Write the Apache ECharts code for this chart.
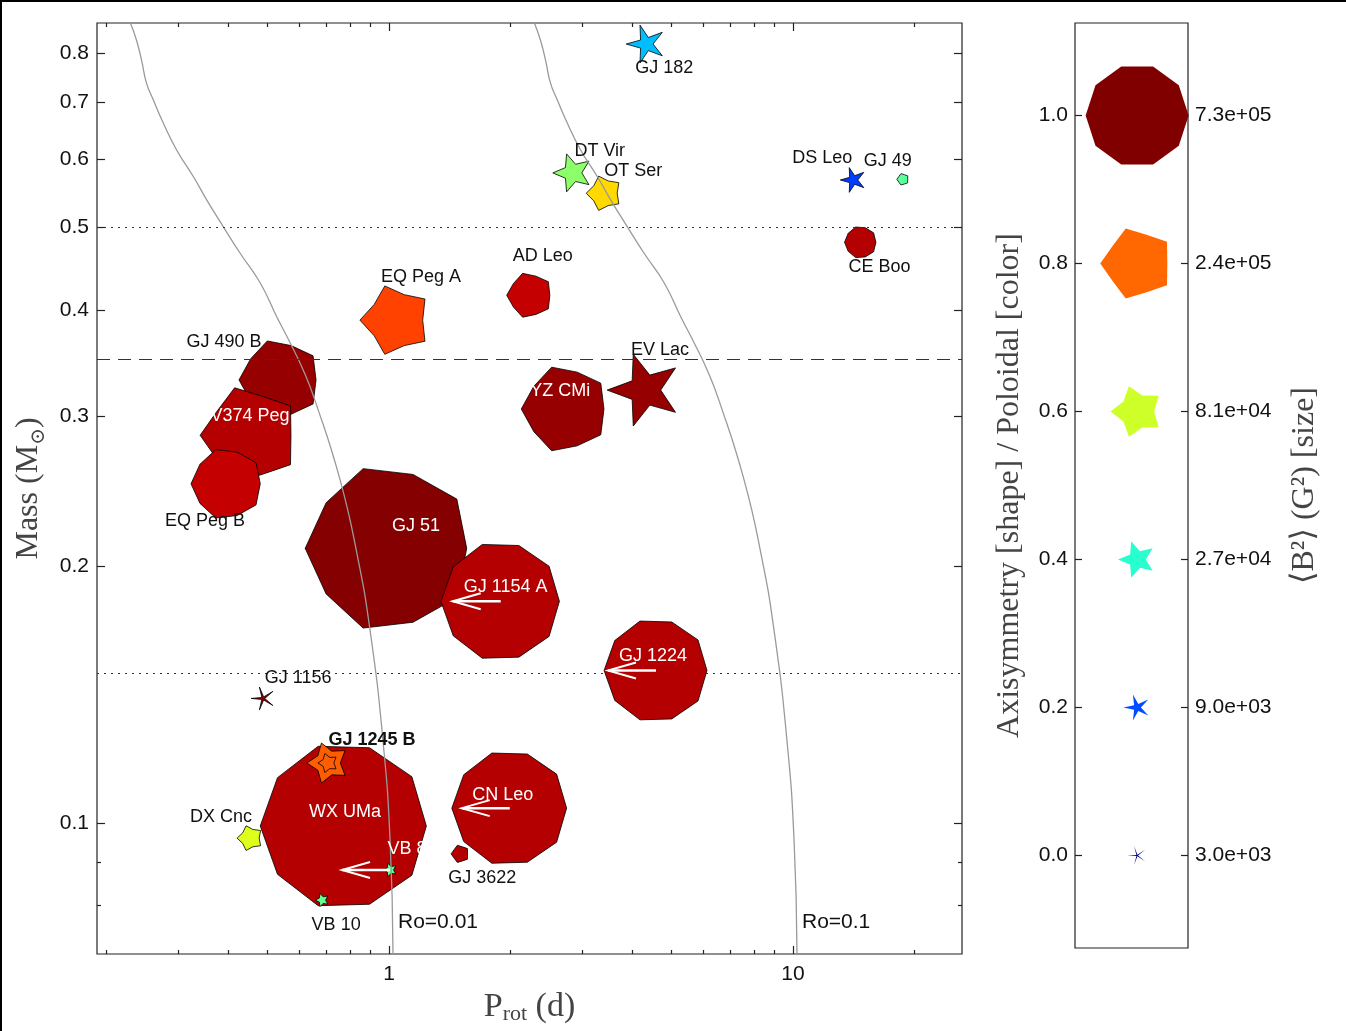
<!DOCTYPE html>
<html>
<head>
<meta charset="utf-8">
<title>Prot - Mass</title>
<script src="https://cdn.jsdelivr.net/npm/echarts@6.0.0/dist/echarts.min.js"></script>
<style>
  html, body { margin: 0; padding: 0; background: #fff; }
  #chart { width: 1346px; height: 1031px; }
</style>
</head>
<body>
<div id="chart"></div>
<script>
// one entry per star, in drawing order (later ones sit on top)
const starNames   = ['GJ 182', 'DT Vir', 'OT Ser', 'DS Leo', 'GJ 49', 'CE Boo', 'AD Leo', 'EQ Peg A',
                     'GJ 490 B', 'V374 Peg', 'EQ Peg B', 'GJ 51', 'GJ 1154 A', 'YZ CMi', 'EV Lac', 'GJ 1224',
                     'GJ 1156', 'WX UMa', 'GJ 1245 B', '', 'DX Cnc', 'VB 8', 'VB 10', 'GJ 3622', 'CN Leo'];
const protDays    = [4.33, 2.85, 3.41, 14.1, 18.7, 14.7, 2.23, 1.04,
                     0.537, 0.453, 0.397, 1.00, 1.89, 2.73, 4.30, 4.58,
                     0.488, 0.774, 0.706, 0.706, 0.453, 1.006, 0.683, 1.50, 1.99];
const massSun     = [0.820, 0.579, 0.548, 0.568, 0.569, 0.480, 0.416, 0.389,
                     0.331, 0.285, 0.250, 0.210, 0.182, 0.306, 0.322, 0.151,
                     0.140, 0.0992, 0.1176, 0.1176, 0.0960, 0.0881, 0.0812, 0.0920, 0.1041];
const axisymmetry = [0.28, 0.40, 0.69, 0.28, 0.80, 0.95, 0.86, 0.72,
                     0.87, 0.80, 0.92, 0.92, 0.98, 0.87, 0.36, 0.98,
                     0.05, 0.98, 0.55, 0.55, 0.67, 0.45, 0.45, 0.80, 0.98];
const poloidal    = [0.31, 0.52, 0.68, 0.185, 0.46, 0.955, 0.94, 0.84,
                     0.98, 0.955, 0.94, 0.995, 0.955, 0.98, 0.98, 0.955,
                     0.99, 0.955, 0.81, 0.81, 0.62, 0.47, 0.47, 0.955, 0.955];
const meanB2      = [3.1e4, 3.1e4, 2.2e4, 7.4e3, 560, 1.5e4, 5.0e4, 2.2e5,
                     3.4e5, 6.6e5, 2.2e5, 3.7e6, 1.2e6, 4.3e5, 2.6e5, 7.5e5,
                     5.7e3, 3.7e6, 3.7e4, 3.1e3, 7.4e3, 935, 900, 2.2e3, 1.08e6];
// periods given as upper limits (white arrow)
const upperLimitStars = ['GJ 1154 A', 'GJ 1224', 'CN Leo', 'VB 8'];

const curveMass = [0.868, 0.829, 0.785, 0.738, 0.705, 0.668, 0.616, 0.573, 0.538, 0.5005, 0.466,
                   0.430, 0.392, 0.366, 0.340, 0.313, 0.253, 0.207, 0.168, 0.125, 0.0955, 0.0702];
const curveTau  = [22.9, 23.7, 24.4, 25.1, 26.1, 27.4, 29.8, 32.8, 35.4, 38.9, 42.8,
                   48.0, 52.8, 56.9, 61.3, 65.6, 75.6, 83.3, 89.8, 96.6, 100.6, 102.3];
const rossby = [0.01, 0.1];

// horizontal reference masses
const massLimits = [0.5, 0.35, 0.15];

// legend column
const legendLevels = [0.0, 0.2, 0.4, 0.6, 0.8, 1.0];
const legendB2 = [3.0e3, 9.0e3, 2.7e4, 8.1e4, 2.4e5, 7.3e5];

// ticks
const xMajor = [1, 10];
const xMinor = [0.2, 0.3, 0.4, 0.5, 0.6, 0.7, 0.8, 0.9, 2, 3, 4, 5, 6, 7, 8, 9, 20];
const yMajor = [0.1, 0.2, 0.3, 0.4, 0.5, 0.6, 0.7, 0.8];
const yMinor = [0.08, 0.09];

// label placement relative to the marker centre: [dx, dy, white?]
const labelPlace = {
  'GJ 182': [18, 24, 0], 'DT Vir': [27, -22, 0], 'OT Ser': [29, -22, 0], 'DS Leo': [-31, -22, 0],
  'GJ 49': [-15, -18, 0], 'CE Boo': [19, 25, 0], 'AD Leo': [13, -39, 0], 'EQ Peg A': [25, -43, 0],
  'GJ 490 B': [-56, -38, 0], 'V374 Peg': [0, -19, 1], 'EQ Peg B': [-22, 37, 0], 'GJ 51': [27, -22, 1],
  'GJ 1154 A': [5, -14, 1], 'YZ CMi': [-5, -18, 1], 'EV Lac': [15, -40, 0], 'GJ 1224': [-3, -14, 1],
  'GJ 1156': [35, -20, 0], 'WX UMa': [1, -14, 1], 'GJ 1245 B': [44, -23, 0], 'DX Cnc': [-29, -21, 0],
  'VB 8': [17, -21, 1], 'VB 10': [14, 25, 0], 'GJ 3622': [22, 24, 0], 'CN Leo': [-7, -13, 1]
};

const SANS = '"Liberation Sans", Arial, sans-serif';
const SERIF = '"Liberation Serif", "DejaVu Serif", serif';

// matplotlib "jet"
const jetR = [[0, 0], [0.35, 0], [0.66, 1], [0.89, 1], [1, 0.5]];
const jetG = [[0, 0], [0.125, 0], [0.375, 1], [0.64, 1], [0.91, 0], [1, 0]];
const jetB = [[0, 0.5], [0.11, 1], [0.34, 1], [0.65, 0], [1, 0]];
function lerpStops(stops, v) {
  for (let i = 1; i < stops.length; i++) {
    if (v <= stops[i][0]) {
      const a = stops[i - 1], b = stops[i];
      return a[1] + (b[1] - a[1]) * (v - a[0]) / (b[0] - a[0]);
    }
  }
  return stops[stops.length - 1][1];
}
function jetColor(v) {
  v = Math.max(0, Math.min(1, v));
  return 'rgb(' + [jetR, jetG, jetB].map(s => Math.round(255 * lerpStops(s, v))).join(',') + ')';
}
// marker radius (px) from <B^2>
function sizeOf(b2) {
  return 51.5 * Math.pow(b2 / 7.3e5, 0.3);
}
// 5-point star, decagon when axisymmetric, pentagon at 0.8, sharp star at 0
function starPoints(cx, cy, R, axi) {
  const ratio = 0.09 + 0.91 * axi;
  const pts = [];
  for (let k = 0; k < 10; k++) {
    const a = Math.PI + k * Math.PI / 5;
    const rad = k % 2 === 0 ? R : R * ratio;
    pts.push([cx + rad * Math.cos(a), cy - rad * Math.sin(a)]);
  }
  return pts;
}
function fmtExp(v) {
  return v.toExponential(1).replace(/e([+-])(\d)$/, function (m, s, d) { return 'e' + s + '0' + d; });
}

const starData = starNames.map((n, i) => [protDays[i], massSun[i], axisymmetry[i], poloidal[i], meanB2[i]]);
const legendColumnX = 0.55;
const legendData = legendLevels.map((lv, i) => [legendColumnX, lv, legendB2[i]]);

const xRange = [0.1893, 26.2];
const yRange = [0.0702, 0.868];
const tickLine = {color: '#222', width: 1.2};

function logX(pos, ticks, len, labels) {
  return {
    type: 'log', gridIndex: 0, min: xRange[0], max: xRange[1], position: pos,
    axisLine: {show: false}, splitLine: {show: false},
    axisTick: {show: true, inside: true, length: len, lineStyle: tickLine, customValues: ticks},
    axisLabel: labels ? {customValues: ticks, margin: 10, fontSize: 21, fontFamily: SANS, color: '#111',
                         formatter: v => String(Math.round(v))} : {show: false}
  };
}
function logY(pos, ticks, len, labels) {
  return {
    type: 'log', gridIndex: 0, min: yRange[0], max: yRange[1], position: pos,
    axisLine: {show: false}, splitLine: {show: false},
    axisTick: {show: true, inside: true, length: len, lineStyle: tickLine, customValues: ticks},
    axisLabel: labels ? {customValues: ticks, margin: 8, fontSize: 21, fontFamily: SANS, color: '#111',
                         formatter: v => (+v).toFixed(1)} : {show: false}
  };
}

const xAxes = [logX('bottom', xMajor, 8, true), logX('bottom', xMinor, 4, false),
               logX('top', xMajor, 8, false), logX('top', xMinor, 4, false),
               {type: 'value', gridIndex: 1, min: 0, max: 1, show: false}];
xAxes[0].name = '{p|P}{sub|rot}{p| (d)}';
xAxes[0].nameLocation = 'middle';
xAxes[0].nameGap = 28;
xAxes[0].nameTextStyle = {rich: {
  p: {fontFamily: SERIF, fontSize: 34, color: '#444', lineHeight: 36},
  sub: {fontFamily: SERIF, fontSize: 22, color: '#444', verticalAlign: 'bottom'}
}};

const yAxes = [logY('left', yMajor, 8, true), logY('left', yMinor, 4, false),
               logY('right', yMajor, 8, false), logY('right', yMinor, 4, false)];
yAxes[0].name = '{p|Mass (M}{sub|⊙}{p|)}';
yAxes[0].nameLocation = 'middle';
yAxes[0].nameRotate = 90;
yAxes[0].nameGap = 46;
yAxes[0].nameTextStyle = {rich: {
  p: {fontFamily: SERIF, fontSize: 32, color: '#444', lineHeight: 40},
  sub: {fontFamily: SERIF, fontSize: 20, color: '#444', verticalAlign: 'bottom'}
}};

// legend column axes
yAxes.push({
  type: 'value', gridIndex: 1, min: -0.125, max: 1.125, position: 'left',
  axisLine: {show: false}, splitLine: {show: false},
  axisTick: {show: true, inside: true, length: 7, lineStyle: tickLine, customValues: legendLevels},
  axisLabel: {customValues: legendLevels, margin: 7, fontSize: 21, fontFamily: SANS, color: '#111',
              formatter: v => (+v).toFixed(1)},
  name: 'Axisymmetry [shape] / Poloidal [color]', nameLocation: 'middle', nameRotate: 90, nameGap: 45,
  nameTextStyle: {fontFamily: SERIF, fontSize: 32, color: '#444', lineHeight: 40}
});
yAxes.push({
  type: 'value', gridIndex: 1, min: -0.125, max: 1.125, position: 'right',
  axisLine: {show: false}, splitLine: {show: false},
  axisTick: {show: true, inside: true, length: 7, lineStyle: tickLine, customValues: legendLevels},
  axisLabel: {customValues: legendLevels, margin: 7, fontSize: 21, fontFamily: SANS, color: '#111',
              formatter: function (v) {
                let best = 0;
                legendLevels.forEach((lv, i) => { if (Math.abs(lv - v) < Math.abs(legendLevels[best] - v)) best = i; });
                return fmtExp(legendB2[best]);
              }},
  name: '⟨B²⟩ (G²) [size]', nameLocation: 'middle', nameRotate: 90, nameGap: 97,
  nameTextStyle: {fontFamily: SERIF, fontSize: 32, color: '#444', lineHeight: 40}
});

const lineStyles = [
  {type: [2, 5], color: '#333', width: 1.2},
  {type: [13, 8], color: '#333', width: 1.2},
  {type: [2, 5], color: '#333', width: 1.2}
];

const roSeries = rossby.map((ro, k) => ({
  type: 'line', xAxisIndex: 0, yAxisIndex: 0, z: 3,
  data: curveMass.map((m, i) => [ro * curveTau[i], m]),
  showSymbol: false, smooth: 0.5, silent: true,
  lineStyle: {color: '#9a9a9a', width: 1.3},
  endLabel: {show: true, formatter: 'Ro=' + ro, distance: 5, offset: [0, -32],
             fontSize: 21, fontFamily: SANS, color: '#111'},
  markLine: k === 0 ? {
    symbol: 'none', silent: true, label: {show: false},
    data: massLimits.map((m, j) => ({yAxis: m, lineStyle: lineStyles[j]}))
  } : undefined
}));

const option = {
  animation: false,
  backgroundColor: '#fff',
  grid: [
    {left: 97, right: 384, top: 23, bottom: 77, show: true, borderColor: '#222', borderWidth: 1.2,
     backgroundColor: 'transparent', outerBoundsMode: 'none'},
    {left: 1075, right: 158, top: 23, bottom: 83, show: true, borderColor: '#222', borderWidth: 1.2,
     backgroundColor: 'transparent', outerBoundsMode: 'none'}
  ],
  xAxis: xAxes,
  yAxis: yAxes,
  graphic: [
    {type: 'rect', shape: {x: 0, y: 0, width: 1346, height: 2}, style: {fill: '#000'}},
    {type: 'rect', shape: {x: 0, y: 0, width: 2, height: 1031}, style: {fill: '#000'}}
  ],
  series: [
    {
      type: 'custom', name: 'stars', xAxisIndex: 0, yAxisIndex: 0, z: 2,
      data: starData, encode: {x: 0, y: 1},
      renderItem: function (params, api) {
        const p = api.coord([api.value(0), api.value(1)]);
        const R = sizeOf(api.value(4));
        return {
          type: 'polygon', z2: params.dataIndex,
          shape: {points: starPoints(p[0], p[1], R, api.value(2))},
          style: {fill: jetColor(api.value(3)), stroke: '#000', lineWidth: 0.8}
        };
      }
    }
  ].concat(roSeries).concat([
    {
      type: 'custom', name: 'labels', xAxisIndex: 0, yAxisIndex: 0, z: 5, silent: true,
      data: starData, encode: {x: 0, y: 1},
      renderItem: function (params, api) {
        const name = starNames[params.dataIndex];
        const p = api.coord([api.value(0), api.value(1)]);
        const children = [];
        if (upperLimitStars.indexOf(name) >= 0) {
          const tip = [p[0] - 48, p[1]];
          children.push({type: 'polyline', shape: {points: [[p[0], p[1]], tip]},
                         style: {stroke: '#fff', lineWidth: 2.5, fill: null}});
          children.push({type: 'polyline', shape: {points: [[tip[0] + 28, tip[1] - 8], tip, [tip[0] + 28, tip[1] + 8]]},
                         style: {stroke: '#fff', lineWidth: 2, fill: null}});
        }
        const lp = labelPlace[name];
        if (name && lp) {
          children.push({
            type: 'text', x: p[0] + lp[0], y: p[1] + lp[1],
            style: {text: name, fill: lp[2] ? '#fff' : '#111', align: 'center', verticalAlign: 'middle',
                    font: (name === 'GJ 1245 B' ? 'bold ' : '') + '18px ' + SANS}
          });
        }
        return {type: 'group', children: children};
      }
    },
    {
      type: 'custom', name: 'legend', xAxisIndex: 4, yAxisIndex: 4, z: 2, silent: true,
      data: legendData, encode: {x: 0, y: 1},
      renderItem: function (params, api) {
        const p = api.coord([api.value(0), api.value(1)]);
        return {
          type: 'polygon',
          shape: {points: starPoints(p[0], p[1], sizeOf(api.value(2)), api.value(1))},
          style: {fill: jetColor(api.value(1)), stroke: null}
        };
      }
    }
  ])
};

var chart = echarts.init(document.getElementById('chart'));
chart.setOption(option);
window.addEventListener('resize', () => chart.resize());
</script>
</body>
</html>
